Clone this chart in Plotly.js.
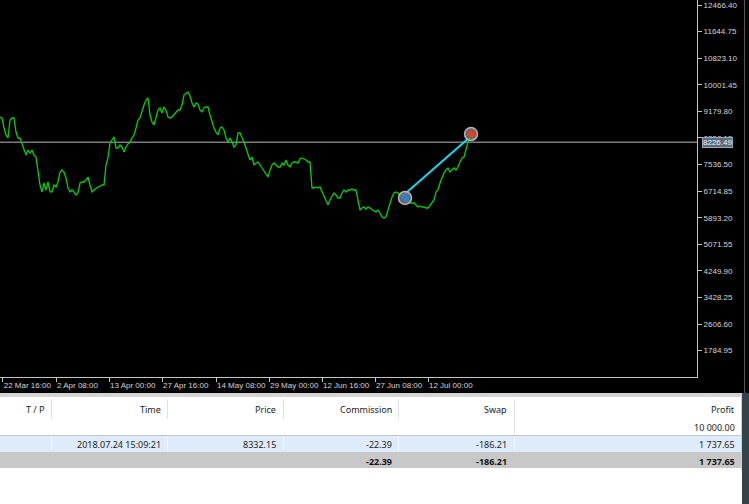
<!DOCTYPE html>
<html><head><meta charset="utf-8">
<script src="https://cdn.plot.ly/plotly-3.0.1.min.js"></script>
<style>html,body{margin:0;padding:0;background:#fff;overflow:hidden}#chart{width:749px;height:504px}</style>
</head><body><div id="chart"></div>
<script>
// ---- data ----
const prices = [
9006,8975,8666,8449,8357,8913,8975,8975,8542,8357,8357,8202,8048,7831,7986,7893,7986,7831,7770,7368,
6905,6689,6966,6750,6997,6689,6689,6905,6843,6997,7306,7368,7306,7121,6812,6689,6750,6689,6596,6658,
6966,6997,6997,7059,7152,6905,6689,6750,6812,6843,6874,6905,6905,7522,7739,8202,8295,8388,8048,8048,
8140,8079,7924,8079,8171,8233,8357,8449,8666,8913,8975,9222,9376,9531,9593,9067,8851,8758,8975,9222,
9284,9129,9315,9222,9006,8975,9006,9067,9160,9222,9222,9376,9685,9747,9778,9654,9438,9315,9438,9407,
9222,9160,9284,9315,9315,9067,8851,8666,8542,8449,8666,8697,8604,8357,8233,8357,8233,8079,8140,8511,
8511,8388,8233,8048,7893,7677,7770,7522,7584,7615,7522,7430,7306,7214,7152,7368,7522,7584,7522,7461,
7461,7584,7522,7677,7522,7461,7584,7615,7615,7584,7708,7739,7708,7677,7615,7615,6812,6812,6843,6812,
6843,6689,6534,6379,6287,6441,6534,6658,6596,6503,6503,6658,6750,6689,6750,6750,6781,6750,6750,6441,
6132,6194,6225,6163,6225,6194,6132,6101,6070,6132,6039,5916,5885,5916,6132,6379,6534,6658,6689,6658,
6596,6596,6596,6658,6379,6348,6348,6348,6287,6225,6256,6225,6225,6194,6194,6287,6348,6441,6689,6750,
6966,7121,7275,7368,7430,7306,7368,7430,7368,7461,7615,7739,7770,7986,8233,8357,8449,8295
];
const barIndex = prices.map((_, i) => i);

const timeTickIdx = [1.35, 28, 54.5, 81, 108, 134.5, 161, 187.5, 214];
const timeTickLabels = ['22 Mar 16:00','2 Apr 08:00','13 Apr 00:00','27 Apr 16:00','14 May 08:00',
  '29 May 00:00','12 Jun 16:00','27 Jun 08:00','12 Jul 00:00'];
const priceTicks = [1784.95,2606.60,3428.25,4249.90,5071.55,5893.20,6714.85,7536.50,8358.15,
  9179.80,10001.45,10823.10,11644.75,12466.40];
const currentPrice = 8226.49;

const tradeIdx = [203, 234];
const tradePrice = [6658, 8332.15];
const markerIdx = [202.5, 235.5];
const markerPrice = [6503, 8480];

const tableHeaders = ['T / P','Time','Price','Commission','Swap','Profit'];
const balanceRow = ['','','','','','10 000.00'];
const dealRow = ['','2018.07.24 15:09:21','8332.15','-22.39','-186.21','1 737.65'];
const totalRow = ['','','','-22.39','-186.21','1 737.65'];

// ---- layout helpers (pixel -> paper) ----
const W = 749, H = 504;
const X = p => p / W;
const Y = p => 1 - p / H;
const colRight = [46, 163, 278, 394, 509, 737];
const colSeps = [51, 167, 283, 398, 514];
const rowY = [409, 427, 444, 461];

const axisFont = {family: 'Liberation Sans, Arial, sans-serif', size: 8, color: '#d6d6d6'};
const tableFont = {family: 'Noto Sans, Liberation Sans, sans-serif', size: 9, color: '#222'};

const traces = [
  {x: barIndex, y: prices, type: 'scatter', mode: 'lines',
   line: {color: '#00d400', width: 1.3}, hoverinfo: 'skip'},
  {x: tradeIdx, y: tradePrice, type: 'scatter', mode: 'lines',
   line: {color: '#1fd3e8', width: 2.2}, hoverinfo: 'skip'},
  {x: markerIdx, y: markerPrice, type: 'scatter', mode: 'markers',
   marker: {size: 13, color: 'rgba(120,120,120,0.85)', line: {color: '#b4b4b4', width: 1.5}}, hoverinfo: 'skip'},
  {x: markerIdx, y: markerPrice, type: 'scatter', mode: 'markers',
   marker: {size: 7, symbol: 'cross', color: ['#2b7fe0', '#ec3b1e'], line: {width: 0}}, hoverinfo: 'skip'}
];

const shapes = [
  {type: 'rect', xref: 'paper', yref: 'paper', x0: 0, x1: X(744), y0: Y(393), y1: 1,
   fillcolor: '#000', line: {width: 0}, layer: 'below'},
  {type: 'line', xref: 'paper', yref: 'paper', x0: X(744.5), x1: X(744.5), y0: Y(393), y1: 1,
   line: {color: '#555', width: 1}},
  {type: 'rect', xref: 'paper', yref: 'paper', x0: X(745), x1: 1, y0: Y(393), y1: 1,
   fillcolor: '#050505', line: {width: 0}},
  {type: 'rect', xref: 'paper', yref: 'paper', x0: 0, x1: X(744), y0: Y(397), y1: Y(393),
   fillcolor: '#d4d4d4', line: {width: 0}},
  {type: 'rect', xref: 'paper', yref: 'paper', x0: X(742), x1: 1, y0: 0, y1: Y(393),
   fillcolor: '#33434a', line: {width: 0}},
  // deal row background
  {type: 'rect', xref: 'paper', yref: 'paper', x0: 0, x1: X(741), y0: Y(452), y1: Y(435),
   fillcolor: '#deebfa', line: {width: 0}},
  {type: 'line', xref: 'paper', yref: 'paper', x0: 0, x1: X(741), y0: Y(435.5), y1: Y(435.5),
   line: {color: '#c2c2c2', width: 1}},
  // total row background
  {type: 'rect', xref: 'paper', yref: 'paper', x0: 0, x1: X(741), y0: Y(468), y1: Y(452),
   fillcolor: '#c8c8c8', line: {width: 0}},
  {type: 'line', xref: 'paper', yref: 'paper', x0: X(741.5), x1: X(741.5), y0: Y(470), y1: Y(397),
   line: {color: '#cfcfcf', width: 1}},
  // row-2 separator
  {type: 'line', xref: 'paper', yref: 'paper', x0: X(514.5), x1: X(514.5), y0: Y(435), y1: Y(419),
   line: {color: '#e2e2e2', width: 1}},
  // current price line
  {type: 'line', xref: 'paper', yref: 'y', x0: 0, x1: X(697), y0: currentPrice, y1: currentPrice,
   line: {color: '#7c7c7c', width: 1.5}, layer: 'below'}
];
colSeps.forEach(s => {
  shapes.push({type: 'line', xref: 'paper', yref: 'paper', x0: X(s + 0.5), x1: X(s + 0.5),
    y0: Y(419), y1: Y(399), line: {color: '#e2e2e2', width: 1}});
  shapes.push({type: 'line', xref: 'paper', yref: 'paper', x0: X(s + 0.5), x1: X(s + 0.5),
    y0: Y(451), y1: Y(436), line: {color: '#f5f9fe', width: 1}});
});

const annotations = [
  {xref: 'paper', yref: 'y', x: X(702), y: currentPrice, xanchor: 'left', yanchor: 'middle',
   text: currentPrice.toFixed(2), showarrow: false, bgcolor: '#5a6b7d', bordercolor: '#9aa8b5',
   borderwidth: 1, borderpad: 0, font: {family: axisFont.family, size: 8, color: '#f2f2f2'}}
];
function addRow(cells, yPix, bold) {
  cells.forEach((t, i) => {
    if (!t) return;
    annotations.push({xref: 'paper', yref: 'paper', x: X(colRight[i]), y: Y(yPix),
      xanchor: 'right', yanchor: 'middle', showarrow: false,
      text: bold ? '<b>' + t + '</b>' : t,
      font: Object.assign({}, tableFont, bold ? {color: '#111'} : {})});
  });
}
addRow(tableHeaders, rowY[0], false);
addRow(balanceRow, rowY[1], false);
addRow(dealRow, rowY[2], false);
addRow(totalRow, rowY[3], true);

const layout = {
  width: W, height: H, margin: {l: 0, r: 0, t: 0, b: 0},
  paper_bgcolor: '#ffffff', plot_bgcolor: '#000000', showlegend: false,
  xaxis: {domain: [0, X(697)], range: [0, 348.5], showgrid: false, zeroline: false,
    showline: true, linecolor: '#c4c4c4', linewidth: 1, ticks: 'outside', ticklen: 4,
    tickcolor: '#c4c4c4', tickvals: timeTickIdx, ticktext: timeTickLabels, tickangle: 0,
    ticklabelposition: 'outside right', tickfont: axisFont, fixedrange: true},
  yaxis: {domain: [Y(377), 1], side: 'right', range: [971.6, 12620.9], showgrid: false,
    zeroline: false, showline: true, linecolor: '#c4c4c4', linewidth: 1, ticks: 'outside',
    ticklen: 4, tickcolor: '#c4c4c4', tickvals: priceTicks,
    ticktext: priceTicks.map(v => v.toFixed(2)), tickfont: axisFont, fixedrange: true},
  shapes: shapes, annotations: annotations
};
Plotly.newPlot('chart', traces, layout, {displayModeBar: false, staticPlot: true});
</script></body></html>
